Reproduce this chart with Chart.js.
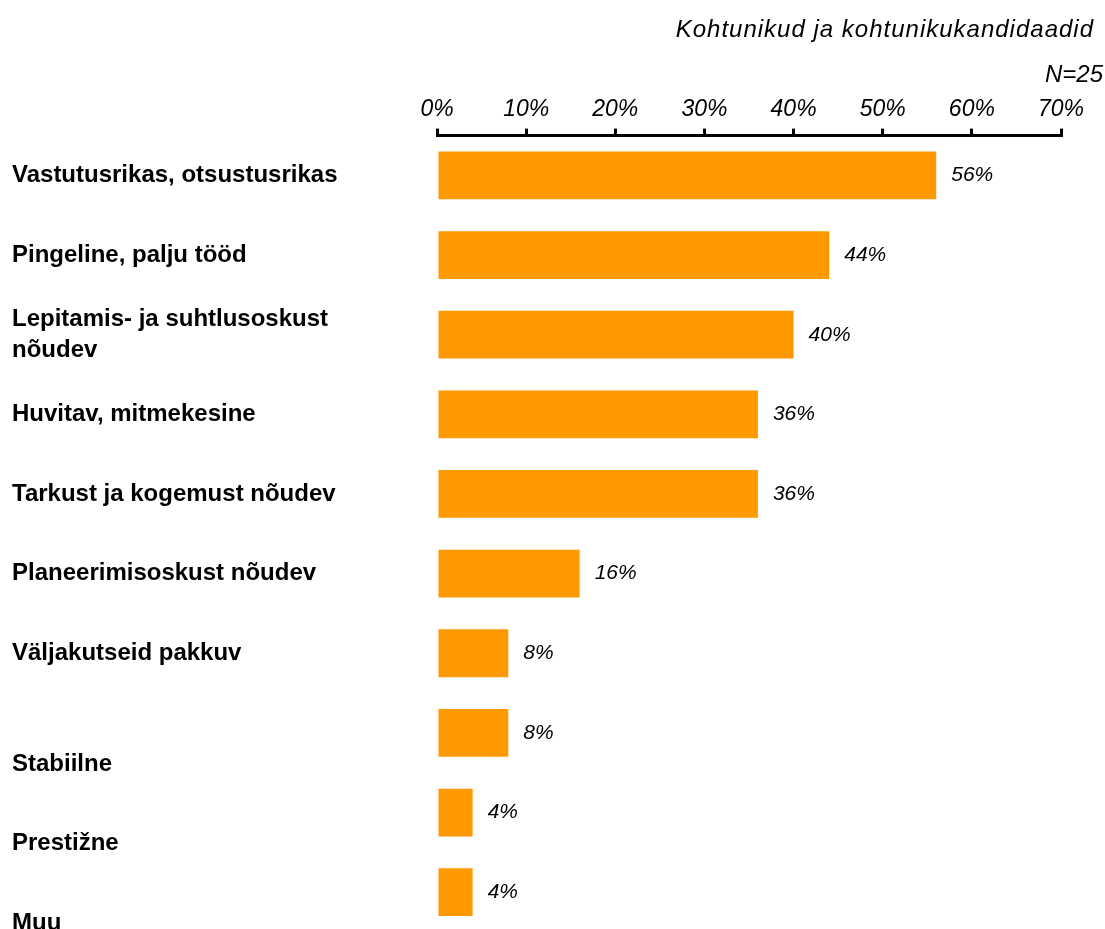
<!DOCTYPE html>
<html lang="et">
<head>
<meta charset="UTF-8">
<title>Kohtunikud ja kohtunikukandidaadid</title>
<script src="https://cdn.jsdelivr.net/npm/chart.js"></script>
<style>
  html, body { margin: 0; padding: 0; background: #fff; overflow: hidden; }
  #wrap { width: 1105px; height: 932px; position: relative; }
</style>
</head>
<body>
<div id="wrap"><canvas id="chart"></canvas></div>
<script>
// data
const categories = [
  'Vastutusrikas, otsustusrikas',
  'Pingeline, palju tööd',
  ['Lepitamis- ja suhtlusoskust', 'nõudev'],
  'Huvitav, mitmekesine',
  'Tarkust ja kogemust nõudev',
  'Planeerimisoskust nõudev',
  'Väljakutseid pakkuv',
  ['', '', 'Stabiilne'],
  ['', '', 'Prestižne'],
  ['', '', 'Muu']
];
const shares = [56, 44, 40, 36, 36, 16, 8, 8, 4, 4];
const xTicks = [0, 10, 20, 30, 40, 50, 60, 70];
const titleText = 'Kohtunikud ja kohtunikukandidaadid';
const sampleText = 'N=25';

const FONT = "'Liberation Sans', Arial, sans-serif";

// header text in the top-right corner
const headerText = {
  id: 'headerText',
  afterDraw(chart) {
    const ctx = chart.ctx;
    ctx.save();
    ctx.fillStyle = '#000';
    ctx.textAlign = 'right';
    ctx.textBaseline = 'middle';
    ctx.font = 'italic 24px ' + FONT;
    ctx.letterSpacing = '1px';
    ctx.fillText(titleText, 1094, 30);
    ctx.letterSpacing = '0px';
    ctx.fillText(sampleText, 1103, 75);
    ctx.restore();
  }
};

// percent value at the end of each bar
const valueLabels = {
  id: 'valueLabels',
  afterDatasetsDraw(chart) {
    const ctx = chart.ctx;
    const meta = chart.getDatasetMeta(0);
    ctx.save();
    ctx.fillStyle = '#000';
    ctx.textAlign = 'left';
    ctx.textBaseline = 'middle';
    ctx.font = 'italic 21px ' + FONT;
    meta.data.forEach((bar, i) => {
      ctx.fillText(shares[i] + '%', bar.x + 15, bar.y);
    });
    ctx.restore();
  }
};

new Chart(document.getElementById('chart'), {
  type: 'bar',
  data: {
    labels: categories,
    datasets: [{
      data: shares,
      backgroundColor: '#ff9900',
      borderWidth: 0,
      categoryPercentage: 1,
      barPercentage: 0.6
    }]
  },
  options: {
    indexAxis: 'y',
    responsive: true,
    maintainAspectRatio: false,
    animation: false,
    layout: { padding: { top: 91, left: 12, right: 44, bottom: 0 } },
    plugins: {
      legend: { display: false },
      tooltip: { enabled: false }
    },
    scales: {
      x: {
        position: 'top',
        min: 0,
        max: 70,
        afterBuildTicks(scale) {
          scale.ticks = xTicks.map(v => ({ value: v }));
        },
        grid: {
          drawOnChartArea: false,
          drawTicks: true,
          tickLength: 7,
          color: '#000',
          lineWidth: 3
        },
        border: { display: true, color: '#000', width: 3 },
        ticks: {
          color: '#000',
          padding: 5,
          font: { family: FONT, size: 23, style: 'italic' },
          callback: v => v + '%'
        }
      },
      y: {
        grid: { display: false },
        border: { display: false },
        afterFit(scale) {
          scale.width = 425;
          scale.paddingTop = 0;
          scale.paddingBottom = 0;
        },
        ticks: {
          color: '#000',
          crossAlign: 'far',
          autoSkip: false,
          font: { family: FONT, size: 24, weight: 'bold', lineHeight: 1.3 }
        }
      }
    }
  },
  plugins: [headerText, valueLabels]
});
</script>
</body>
</html>
